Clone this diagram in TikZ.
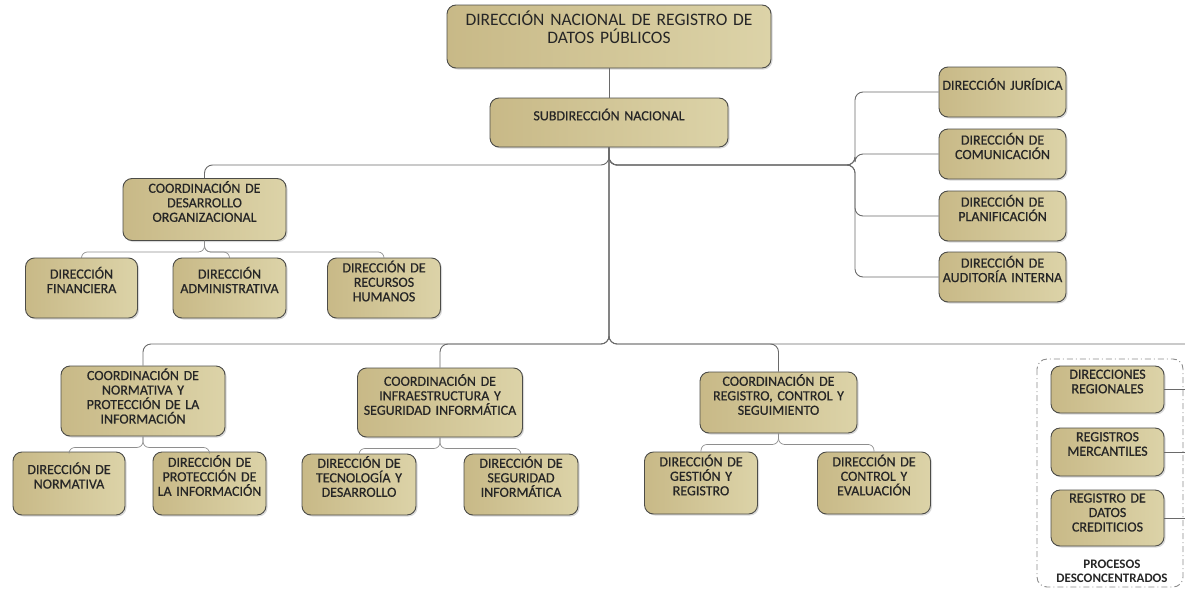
\documentclass[tikz,border=0pt]{standalone}
\usepackage{fontspec}
\setmainfont{Carlito}
\newfontfamily\unitfont{Carlito}[FakeBold=0.6]
\usetikzlibrary{shadows}

\begin{document}
\begin{tikzpicture}[x=1pt,y=-1pt,
  lift/.store in=\liftgap,lift=16pt,
  unit/.style={draw=edgegray,line width=0.9pt,rounded corners=9pt,left color=tandark,right color=tanlight,
    drop shadow={shadow xshift=1.5pt,shadow yshift=-1.5pt,opacity=.3},text=inkgray,align=center,
    inner xsep=0pt,inner ysep=1pt,font=\unitfont\fontsize{14}{14.5}\selectfont,execute at end node={\endgraf\kern\liftgap}},
  sz/.style 2 args={minimum width=#1,minimum height=#2,text width=#1},
  link/.style={draw=linkgray,line width=0.9pt,rounded corners=8pt},
  sublink/.style={draw=sublinkgray,line width=0.7pt,rounded corners=6pt},
  plabel/.style={text=inkgray,align=center,font=\bfseries\fontsize{13}{13.5}\selectfont}]
\definecolor{tandark}{HTML}{C8B987}
\definecolor{tanlight}{HTML}{DCD3A8}
\definecolor{edgegray}{HTML}{4C4C48}
\definecolor{inkgray}{HTML}{262626}
\definecolor{linkgray}{HTML}{6A6A6A}
\definecolor{sublinkgray}{HTML}{8E8E8E}
\definecolor{dashgray}{HTML}{8A8A8A}
\useasboundingbox (0,0) rectangle (1185,589);

% procesos desconcentrados
\draw[dashgray,line width=0.9pt,rounded corners=10pt,dash pattern=on 6pt off 3pt on 1pt off 3pt] (1037,359) rectangle (1183,587);
\node[plabel] (pdesc) at (1112,571.5) {PROCESOS\\DESCONCENTRADOS};

% nivel directivo
\node[unit,sz={324}{63},font=\fontsize{17.5}{18}\selectfont,lift=19pt] (dnrdp) at (609,36.5) {DIRECCIÓN NACIONAL DE REGISTRO DE\\DATOS PÚBLICOS};
\node[unit,sz={238}{49}] (snac) at (609,122.5) {SUBDIRECCIÓN NACIONAL};

% asesoria
\node[unit,sz={127}{50}] (jur) at (1002.5,92) {DIRECCIÓN JURÍDICA};
\node[unit,sz={127}{50}] (com) at (1002.5,154) {DIRECCIÓN DE\\COMUNICACIÓN};
\node[unit,sz={127}{50}] (pla) at (1002.5,216) {DIRECCIÓN DE\\PLANIFICACIÓN};
\node[unit,sz={127}{50}] (aud) at (1002.5,277) {DIRECCIÓN DE\\AUDITORÍA INTERNA};

% desarrollo organizacional
\node[unit,sz={163}{62}] (cdo) at (204.5,209.5) {COORDINACIÓN DE\\DESARROLLO\\ORGANIZACIONAL};
\node[unit,sz={112}{60}] (fin) at (81.5,288) {DIRECCIÓN\\FINANCIERA};
\node[unit,sz={113}{60}] (adm) at (229.5,288) {DIRECCIÓN\\ADMINISTRATIVA};
\node[unit,sz={113}{60},lift=14pt] (rrh) at (384,288) {DIRECCIÓN DE\\RECURSOS\\HUMANOS};

% coordinaciones
\node[unit,sz={164}{70},lift=10pt] (cnp) at (143,401) {COORDINACIÓN DE\\NORMATIVA Y\\PROTECCIÓN DE LA\\INFORMACIÓN};
\node[unit,sz={165}{69}] (cis) at (440,402.5) {COORDINACIÓN DE\\INFRAESTRUCTURA Y\\SEGURIDAD INFORMÁTICA};
\node[unit,sz={157}{61}] (crc) at (778.5,402.5) {COORDINACIÓN DE\\REGISTRO, CONTROL Y\\SEGUIMIENTO};

\node[unit,sz={112}{63}] (nor) at (69,483.5) {DIRECCIÓN DE\\NORMATIVA};
\node[unit,sz={113}{63}] (pro) at (209.5,483.5) {DIRECCIÓN DE\\PROTECCIÓN DE\\LA INFORMACIÓN};
\node[unit,sz={114}{61}] (tec) at (359,484.5) {DIRECCIÓN DE\\TECNOLOGÍA Y\\DESARROLLO};
\node[unit,sz={114}{61}] (seg) at (521,484.5) {DIRECCIÓN DE\\SEGURIDAD\\INFORMÁTICA};
\node[unit,sz={113}{62}] (ges) at (701,483) {DIRECCIÓN DE\\GESTIÓN Y\\REGISTRO};
\node[unit,sz={113}{62}] (ctl) at (874,483) {DIRECCIÓN DE\\CONTROL Y\\EVALUACIÓN};

\node[unit,sz={113}{47}] (reg) at (1107.5,389.5) {DIRECCIONES\\REGIONALES};
\node[unit,sz={113}{48}] (mer) at (1107.5,452) {REGISTROS\\MERCANTILES};
\node[unit,sz={113}{56},lift=11pt] (cre) at (1107.5,518) {REGISTRO DE\\DATOS\\CREDITICIOS};

% conectores
\coordinate (hub) at (609,165);
\coordinate (rhub) at (855,165);
\coordinate (trunk) at (609,344);
\coordinate (rim) at (1185,344);
\draw[link] (dnrdp) -- (snac);
\draw[link] (snac.south) -- (hub) -| (cdo.north);
\foreach \d in {jur,com,pla,aud}
  \draw[link] (snac.south) -- (hub) -- (rhub) |- (\d.west);
\foreach \c in {cnp,cis,crc}
  \draw[link] (snac.south) -- (trunk) -| (\c.north);
\draw[link] (snac.south) -- (trunk) -- (rim);
\foreach \p/\k in {cdo/fin,cdo/adm,cdo/rrh,cnp/nor,cnp/pro,cis/tec,cis/seg,crc/ges,crc/ctl}
  \draw[sublink] (\p.south) -- ++(0,11) -| (\k.north);
\foreach \q in {reg,mer,cre}
  \draw[link] (\q.east) -- (\q.east -| rim);
\end{tikzpicture}
\end{document}
